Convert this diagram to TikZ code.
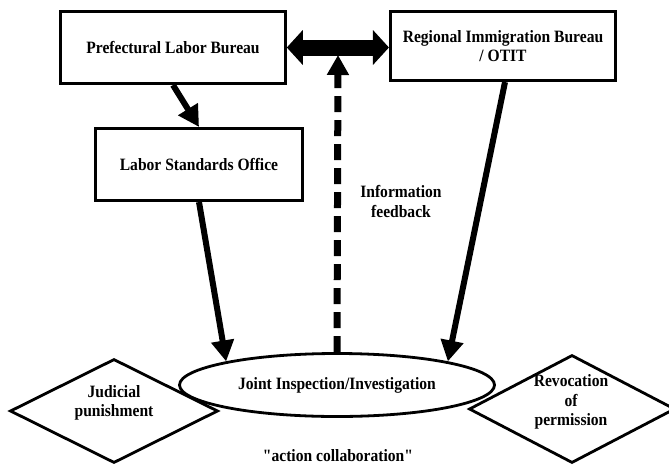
\documentclass[tikz,border=0pt]{standalone}
\usepackage{fontspec}
\setmainfont{Liberation Serif}[Ligatures=TeXOff, FakeStretch=0.9]
\usetikzlibrary{arrows.meta,shapes.geometric}

\tikzset{
	txt/.style={align=center, font=\bfseries\fontsize{17.3}{19.5}\selectfont},
	office/.style={txt, draw, line width=2.6pt, inner sep=0pt},
	joint/.style={txt, draw, ellipse, line width=2.8pt, inner sep=0pt},
	result/.style={draw, diamond, line width=2.8pt, inner sep=0pt},
	flow/.style={line width=6pt, -{Triangle[length=21pt,width=22pt]}},
	feedback/.style={line width=7pt, dash pattern=on 16pt off 8pt, -{Triangle[length=20pt,width=21pt]}},
	twoway/.style={line width=16pt, {Triangle[length=16pt,width=34pt]}-{Triangle[length=16pt,width=34pt]}}
}

\begin{document}
\begin{tikzpicture}[x=1pt,y=-1pt]
	\useasboundingbox (0,0) rectangle (669,466);
	
	%% offices
	\node[office, minimum width=225pt, minimum height=72.5pt] (plb) at (173,47.5) {Prefectural Labor Bureau};
	\node[office, minimum width=225.5pt, minimum height=69.5pt] (rib) at (503,46) {Regional Immigration Bureau\\/ OTIT};
	\node[office, minimum width=207.5pt, minimum height=72.5pt] (lso) at (199,164.5) {Labor Standards Office};
	
	%% results
	\node[result, minimum width=208pt, minimum height=104pt] (jud) at (114,411) {};
	\node[result, minimum width=206pt, minimum height=108pt] (rev) at (572,409) {};
	\node[txt] (judtxt) at (114,403) {Judicial\\punishment};
	\node[txt] (revtxt) at (571,402) {Revocation\\of\\permission};
	
	%% joint inspection
	\node[joint, minimum width=315pt, minimum height=63pt] (jii) at (337,385) {Joint Inspection/Investigation};
	\node[txt] (act) at (338,456) {"action collaboration"};
	
	%% arrows
	\draw[twoway] (plb.east) -- (plb.east -| rib.west);
	\draw[flow] (plb.south) -- (lso.north);
	\draw[flow] (lso.south) -- (jii.168);
	\draw[flow] ([xshift=2pt]rib.south) -- (jii.12);
	\coordinate (link) at (338,55);
	\draw[feedback] (jii.north) -- (link);
	\node[txt] (info) at (401,201.5) {Information\\feedback};
\end{tikzpicture}
\end{document}
